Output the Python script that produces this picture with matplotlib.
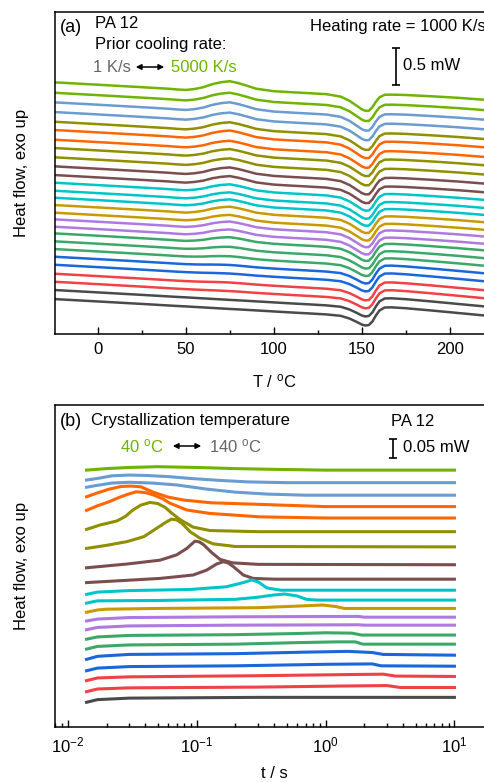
import numpy as np
import matplotlib
matplotlib.use('Agg')
import matplotlib.pyplot as plt
from matplotlib.ticker import MultipleLocator, LogLocator, NullFormatter

plt.rcParams['font.family'] = ['Liberation Sans', 'DejaVu Sans']
plt.rcParams['mathtext.fontset'] = 'custom'
plt.rcParams['mathtext.rm'] = 'Liberation Sans'
plt.rcParams['mathtext.it'] = 'Liberation Sans:italic'
plt.rcParams['mathtext.bf'] = 'Liberation Sans:bold'
plt.rcParams['font.size'] = 12

W, H = 485, 782

GREEN = '#6EB400'
LBLUE = '#6A9BD1'
OLIVE = '#8F8F00'
ORANGE = '#FF6600'
BROWN = '#7A4E4E'
CYAN = '#00C5C8'
GOLD = '#C99A00'
PURPLE = '#AE79E0'
SGREEN = '#3BA86A'
BLUE = '#1A66DB'
RED = '#F04145'
GRAY = '#4A4A4A'

# ---- (a) heating scans after different prior cooling rates ----
temp = [-25, 0, 25, 40, 45, 50, 55, 60, 65, 70, 75, 80, 85, 90, 100, 110, 120, 130,
        138, 143, 147, 150, 152, 154, 156, 158, 160, 163, 167, 175, 190, 205, 220, 226]
# common baseline drift + melting endotherm (mW, relative to the start value)
base_shape = [0, -0.033, -0.067, -0.088, -0.095, -0.101, -0.108, -0.115, -0.122, -0.129,
              -0.136, -0.142, -0.149, -0.156, -0.170, -0.184, -0.197, -0.211,
              -0.230, -0.267, -0.312, -0.349, -0.363, -0.356, -0.308, -0.226, -0.158,
              -0.116, -0.114, -0.126, -0.158, -0.192, -0.226, -0.240]
# cold-crystallization exotherm of the fastest-cooled sample (mW)
exo_shape = [0, 0, 0, 0, -0.003, -0.004, 0.016, 0.048, 0.096, 0.130, 0.151, 0.130, 0.100,
             0.068, 0.048, 0.048, 0.048, 0.048, 0.034, 0.014, -0.007, -0.021, -0.027,
             -0.034, -0.034, -0.041, -0.048, -0.055, -0.055, -0.048, -0.034, -0.021,
             -0.014, -0.014]
# stacked start level of each scan (mW), from 5000 K/s (top) to 1 K/s (bottom)
start_level = [3.448, 3.305, 3.174, 3.041, 2.908, 2.795, 2.662, 2.548, 2.421, 2.297,
               2.178, 2.073, 1.963, 1.867, 1.767, 1.662, 1.571, 1.470, 1.379, 1.270,
               1.164, 1.059, 0.949, 0.826, 0.716, 0.603, 0.479]
exo_weight = [1.0, 0.9, 0.9, 0.85, 0.85, 0.85, 0.8, 0.8, 0.8, 0.8, 0.8, 0.75, 0.75, 0.75,
              0.75, 0.7, 0.7, 0.65, 0.55, 0.4, 0.25, 0.15, 0.1, 0.1, 0.05, 0.0, 0.0]
colors_a = [GREEN, GREEN, LBLUE, LBLUE, OLIVE, ORANGE, ORANGE, OLIVE, OLIVE, BROWN, BROWN,
            CYAN, CYAN, CYAN, GOLD, GOLD, PURPLE, PURPLE, SGREEN, SGREEN, SGREEN,
            BLUE, BLUE, RED, RED, GRAY, GRAY]

# ---- (b) isothermal crystallization at 40 ... 140 C ----
tc_values = list(range(40, 145, 5))
colors_b = [GREEN, LBLUE, LBLUE, ORANGE, ORANGE, OLIVE, OLIVE, BROWN, BROWN, CYAN, CYAN,
            GOLD, PURPLE, PURPLE, SGREEN, SGREEN, BLUE, BLUE, RED, RED, GRAY]
times = [
    [0.014, 0.02, 0.03, 0.05, 0.1, 0.2, 0.4, 1, 10],
    [0.014, 0.017, 0.022, 0.03, 0.04, 0.06, 0.09, 0.15, 0.25, 0.5, 10],
    [0.014, 0.017, 0.022, 0.03, 0.045, 0.07, 0.12, 0.2, 0.35, 0.7, 10],
    [0.014, 0.017, 0.021, 0.026, 0.031, 0.037, 0.046, 0.06, 0.08, 0.13, 0.3, 1.0, 10],
    [0.014, 0.017, 0.021, 0.025, 0.029, 0.034, 0.04, 0.046, 0.055, 0.062, 0.084, 0.127, 0.31, 1.0, 10],
    [0.014, 0.018, 0.024, 0.028, 0.032, 0.037, 0.0435, 0.05, 0.057, 0.064, 0.075, 0.094, 0.127, 0.3, 10],
    [0.014, 0.02, 0.029, 0.039, 0.049, 0.0585, 0.064, 0.07, 0.077, 0.089, 0.106, 0.134, 0.2, 10],
    [0.014, 0.029, 0.052, 0.07, 0.084, 0.097, 0.105, 0.113, 0.131, 0.152, 0.19, 0.3, 10],
    [0.014, 0.052, 0.094, 0.12, 0.143, 0.161, 0.175, 0.193, 0.23, 0.275, 0.4, 10],
    [0.014, 0.017, 0.03, 0.09, 0.17, 0.23, 0.268, 0.3, 0.35, 0.45, 10],
    [0.014, 0.017, 0.05, 0.2, 0.29, 0.39, 0.48, 0.6, 0.71, 0.85, 10],
    [0.014, 0.017, 0.02, 0.05, 0.3, 0.7, 0.95, 1.2, 1.4, 10],
    [0.014, 0.017, 0.03, 0.2, 1.8, 2.0, 10],
    [0.014, 0.017, 0.03, 0.2, 1.8, 2.0, 10],
    [0.014, 0.017, 0.03, 0.2, 0.6, 1.0, 1.6, 1.9, 10],
    [0.014, 0.017, 0.03, 0.2, 0.6, 1.2, 1.7, 1.95, 10],
    [0.014, 0.017, 0.03, 0.2, 0.7, 1.5, 2.3, 2.8, 10],
    [0.014, 0.017, 0.03, 0.2, 1.0, 2.3, 2.7, 10],
    [0.014, 0.017, 0.03, 0.3, 1.5, 2.8, 3.5, 10],
    [0.014, 0.017, 0.03, 0.3, 1.5, 3.0, 3.8, 10],
    [0.014, 0.017, 0.03, 0.3, 10],
]
flows = [
    [0.676, 0.680, 0.683, 0.685, 0.683, 0.680, 0.678, 0.676, 0.676],
    [0.650, 0.654, 0.661, 0.663, 0.662, 0.659, 0.654, 0.649, 0.645, 0.643, 0.643],
    [0.631, 0.636, 0.642, 0.644, 0.642, 0.637, 0.626, 0.618, 0.613, 0.610, 0.610],
    [0.606, 0.616, 0.626, 0.633, 0.634, 0.632, 0.618, 0.605, 0.597, 0.590, 0.586, 0.580, 0.580],
    [0.570, 0.582, 0.593, 0.604, 0.612, 0.619, 0.617, 0.611, 0.600, 0.589, 0.571, 0.562, 0.553, 0.550, 0.550],
    [0.520, 0.532, 0.542, 0.554, 0.571, 0.584, 0.591, 0.588, 0.578, 0.563, 0.545, 0.526, 0.517, 0.514, 0.514],
    [0.470, 0.478, 0.488, 0.501, 0.523, 0.540, 0.547, 0.545, 0.536, 0.514, 0.497, 0.482, 0.475, 0.474],
    [0.419, 0.429, 0.439, 0.453, 0.470, 0.489, 0.487, 0.480, 0.459, 0.441, 0.432, 0.428, 0.427],
    [0.380, 0.391, 0.400, 0.413, 0.429, 0.435, 0.432, 0.422, 0.400, 0.391, 0.389, 0.389],
    [0.349, 0.355, 0.359, 0.362, 0.369, 0.380, 0.387, 0.382, 0.366, 0.360, 0.360],
    [0.326, 0.332, 0.333, 0.336, 0.341, 0.347, 0.350, 0.345, 0.336, 0.334, 0.334],
    [0.302, 0.308, 0.310, 0.312, 0.314, 0.319, 0.321, 0.317, 0.312, 0.312],
    [0.279, 0.284, 0.288, 0.290, 0.291, 0.289, 0.289],
    [0.256, 0.262, 0.266, 0.268, 0.269, 0.268, 0.268],
    [0.231, 0.237, 0.241, 0.243, 0.246, 0.248, 0.247, 0.242, 0.242],
    [0.205, 0.212, 0.216, 0.218, 0.222, 0.224, 0.224, 0.218, 0.218],
    [0.178, 0.186, 0.191, 0.193, 0.197, 0.199, 0.196, 0.191, 0.189],
    [0.148, 0.155, 0.159, 0.161, 0.165, 0.166, 0.161, 0.160],
    [0.122, 0.129, 0.132, 0.135, 0.138, 0.139, 0.134, 0.133],
    [0.093, 0.100, 0.103, 0.105, 0.108, 0.109, 0.104, 0.104],
    [0.065, 0.072, 0.076, 0.078, 0.078],
]

fig = plt.figure(figsize=(W / 100, H / 100), dpi=100)


def fx(px):
    return px / W


def fy(py):
    return 1 - py / H


def style_axes(ax):
    ax.set_yticks([])
    ax.spines['right'].set_visible(False)
    for s in ax.spines.values():
        s.set_linewidth(1.1)
    ax.tick_params(axis='x', which='both', direction='in', top=False, width=1.0,
                   labelsize=12, pad=6)
    ax.tick_params(axis='x', which='major', length=5)
    ax.tick_params(axis='x', which='minor', length=3)
    ax.set_ylabel('Heat flow, exo up', fontsize=12, labelpad=19)


# panel (a)
ax1 = fig.add_axes([fx(55), fy(334), fx(493.8 - 55), 322 / H])
temp_arr = np.array(temp)
for lvl, w, c in zip(start_level, exo_weight, colors_a):
    hf = lvl + np.array(base_shape) + w * np.array(exo_shape)
    ax1.plot(temp_arr, hf, color=c, lw=1.8, solid_joinstyle='round')
ax1.set_xlim(-24.3, 225)
ax1.set_ylim(0, 322 / 73)
ax1.xaxis.set_major_locator(MultipleLocator(50))
ax1.xaxis.set_minor_locator(MultipleLocator(25))
style_axes(ax1)
ax1.set_xlabel(r'T / $^{\rm o}$C', fontsize=12, labelpad=11)
# 0.5 mW scale bar
ax1.errorbar([169.5], [3.411 + 0.25], yerr=[0.25], color='k', lw=1.2, capsize=3,
             capthick=1.2)

# panel (b)
ax2 = fig.add_axes([fx(55), fy(727), fx(493.1 - 55), 322 / H])
for t, q, c in zip(times, flows, colors_b):
    ax2.plot(t, q, color=c, lw=2.2, solid_joinstyle='round')
ax2.set_xscale('log')
ax2.set_xlim(10 ** -2.0985, 10 ** 1.3)
ax2.set_ylim(0, 322 / 380)
ax2.xaxis.set_major_locator(LogLocator(base=10, numticks=10))
ax2.xaxis.set_minor_locator(LogLocator(base=10, subs=np.arange(2, 10), numticks=20))
ax2.xaxis.set_minor_formatter(NullFormatter())
style_axes(ax2)
ax2.set_xlabel('t / s', fontsize=12, labelpad=8)
# 0.05 mW scale bar
ax2.errorbar([3.36], [0.707 + 0.025], yerr=[0.025], color='k', lw=1.2, capsize=3,
             capthick=1.2)

# annotations, panel (a)
fig.text(fx(60), fy(28), '(a)', fontsize=13, va='center')
fig.text(fx(95), fy(24), 'PA 12', fontsize=12, va='center')
fig.text(fx(95), fy(45), 'Prior cooling rate:', fontsize=12, va='center')
fig.text(fx(93), fy(67), '1 K/s', fontsize=12, va='center', color='#666666')
fig.text(fx(171), fy(67), '5000 K/s', fontsize=12, va='center', color=GREEN)
fig.text(fx(310), fy(26), 'Heating rate = 1000 K/s', fontsize=12, va='center')
fig.text(fx(403), fy(66), '0.5 mW', fontsize=12, va='center')

# annotations, panel (b)
fig.text(fx(60), fy(421), '(b)', fontsize=13, va='center')
fig.text(fx(91), fy(421), 'Crystallization temperature', fontsize=12, va='center')
fig.text(fx(391), fy(421), 'PA 12', fontsize=12, va='center')
fig.text(fx(120), fy(446), r'40 $^{\rm o}$C', fontsize=12, va='center', color=GREEN)
fig.text(fx(209), fy(446), r'140 $^{\rm o}$C', fontsize=12, va='center', color='#666666')
fig.text(fx(403), fy(447), '0.05 mW', fontsize=12, va='center')

for x1, x2, y in [(133, 167, 67), (170, 204, 446)]:
    fig.add_artist(matplotlib.patches.FancyArrowPatch(
        (fx(x1), fy(y)), (fx(x2), fy(y)), transform=fig.transFigure,
        arrowstyle='<|-|>', mutation_scale=8, color='k', lw=1.1))

fig.savefig('out.png', dpi=100)
